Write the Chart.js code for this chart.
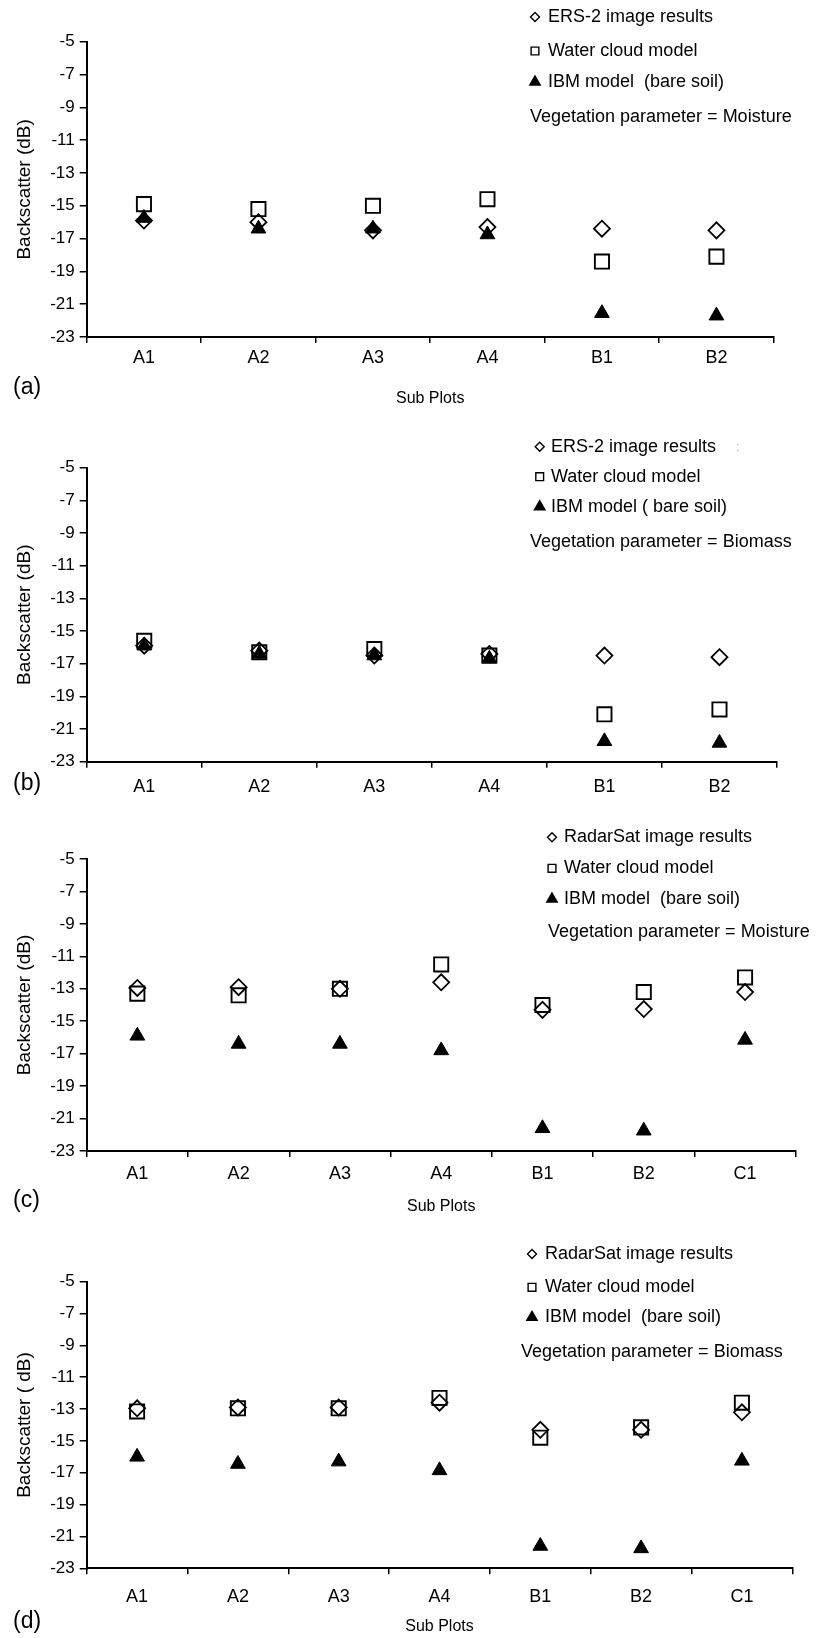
<!DOCTYPE html>
<html><head><meta charset="utf-8">
<script src="https://cdn.jsdelivr.net/npm/chart.js@4/dist/chart.umd.min.js"></script>
<style>
html,body{margin:0;padding:0;background:#fff;}
body{width:816px;height:1638px;position:relative;overflow:hidden;font-family:"Liberation Sans",Arial,sans-serif;}
canvas{position:absolute;left:0;}
.lbl{position:absolute;left:13px;font-size:23px;line-height:23px;color:#000;}
</style></head><body>
<canvas id="ca" width="816" height="410" style="top:0px"></canvas>
<canvas id="cb" width="816" height="405" style="top:410px"></canvas>
<canvas id="cc" width="816" height="420" style="top:815px"></canvas>
<canvas id="cd" width="816" height="403" style="top:1235px"></canvas>
<div class="lbl" style="top:375px">(a)</div>
<div class="lbl" style="top:771px">(b)</div>
<div class="lbl" style="top:1188px">(c)</div>
<div class="lbl" style="top:1609px">(d)</div>
<script>
// ---- data ----
const catsAB = ['A1','A2','A3','A4','B1','B2'];
const catsCD = ['A1','A2','A3','A4','B1','B2','C1'];
const yTicks = [-5,-7,-9,-11,-13,-15,-17,-19,-21,-23];

const a_ers = [-15.9, -16.0, -16.5, -16.3, -16.4, -16.5];
const a_wcm = [-14.9, -15.2, -15.0, -14.6, -18.4, -18.1];
const a_ibm = [-15.75, -16.4, -16.4, -16.75, -21.55, -21.7];

const b_ers = [-15.9, -16.2, -16.5, -16.4, -16.5, -16.6];
const b_wcm = [-15.6, -16.3, -16.1, -16.5, -20.1, -19.8];
const b_ibm = [-15.9, -16.4, -16.5, -16.7, -21.75, -21.85];

const c_rs  = [-12.95, -12.9, -13.0, -12.6, -14.3, -14.25, -13.2];
const c_wcm = [-13.3, -13.4, -13.0, -11.5, -14.0, -13.2, -12.3];
const c_ibm = [-15.9, -16.4, -16.4, -16.8, -21.6, -21.75, -16.15];

const d_rs  = [-12.95, -12.9, -12.9, -12.6, -14.3, -14.3, -13.2];
const d_wcm = [-13.15, -12.95, -12.95, -12.3, -14.8, -14.15, -12.6];
const d_ibm = [-16.0, -16.45, -16.3, -16.85, -21.6, -21.75, -16.25];

// ---- rendering ----
const FONT = '"Liberation Sans", Arial, sans-serif';
Chart.defaults.font.family = FONT;
Chart.defaults.color = '#000';

function drawMarker(ctx, style, x, y, r, filled) {
  ctx.beginPath();
  if (style === 'rectRot') {
    ctx.moveTo(x, y - r); ctx.lineTo(x + r, y); ctx.lineTo(x, y + r); ctx.lineTo(x - r, y); ctx.closePath();
  } else if (style === 'rect') {
    const s = r * Math.SQRT1_2; ctx.rect(x - s, y - s, 2 * s, 2 * s);
  } else {
    ctx.moveTo(x, y - r); ctx.lineTo(x + 0.866 * r, y + 0.5 * r); ctx.lineTo(x - 0.866 * r, y + 0.5 * r); ctx.closePath();
  }
  if (filled) { ctx.fillStyle = '#000'; ctx.fill(); }
  ctx.lineWidth = 1.4; ctx.strokeStyle = '#000'; ctx.stroke();
}

const sideLegend = {
  id: 'sideLegend',
  afterDraw(chart, args, o) {
    const ctx = chart.ctx;
    ctx.save();
    ctx.font = '18px ' + FONT;
    ctx.textBaseline = 'middle';
    chart.data.datasets.forEach((ds, i) => {
      const y = o.ys[i];
      drawMarker(ctx, ds.pointStyle, o.markerX, y, o.legendR[i], ds.pointStyle === 'triangle');
      ctx.fillStyle = '#000';
      ctx.fillText(ds.label, o.textX, y);
    });
    ctx.fillStyle = '#000';
    ctx.fillText(o.note, o.noteX, o.noteY);
    if (o.extra) { ctx.fillStyle = '#aaa'; ctx.font = '13px ' + FONT; ctx.fillText(o.extra.text, o.extra.x, o.extra.y); }
    ctx.restore();
  }
};

function makeChart(id, p) {
  const datasets = [
    {label: p.names[0], data: p.s1, pointStyle: 'rectRot', pointRadius: 8, pointBorderWidth: 1.8,
     pointBorderColor: '#000', pointBackgroundColor: 'rgba(0,0,0,0)', showLine: false},
    {label: p.names[1], data: p.s2, pointStyle: 'rect', pointRadius: 10, pointBorderWidth: 1.9,
     pointBorderColor: '#000', pointBackgroundColor: 'rgba(0,0,0,0)', showLine: false},
    {label: p.names[2], data: p.s3, pointStyle: 'triangle', pointRadius: 8.5, pointBorderWidth: 1,
     pointBorderColor: '#000', pointBackgroundColor: '#000', showLine: false}
  ];
  return new Chart(document.getElementById(id), {
    type: 'line',
    data: {labels: p.cats, datasets},
    plugins: [sideLegend],
    options: {
      responsive: false, animation: false, events: [],
      layout: {padding: {top: p.padTop, right: 816 - p.right, left: 0, bottom: 0}},
      plugins: {
        legend: {display: false}, tooltip: {enabled: false},
        sideLegend: p.legend
      },
      scales: {
        x: {
          type: 'category', offset: true,
          grid: {offset: true, drawOnChartArea: false, drawTicks: true, tickLength: 6, color: '#000', lineWidth: 1.5},
          border: {color: '#000', width: 2},
          ticks: {color: '#000', font: {size: 18}, padding: p.tickPad, maxRotation: 0, autoSkip: false},
          title: {display: !!p.xTitle, text: p.xTitle || '', color: '#000', font: {size: 16}, padding: {top: 0, bottom: p.titlePad}},
          afterFit: s => { s.height = p.xHeight; }
        },
        y: {
          min: -23, max: -5,
          afterBuildTicks: s => { s.ticks = yTicks.map(v => ({value: v})); },
          grid: {drawOnChartArea: false, drawTicks: true, tickLength: 7, color: '#000', lineWidth: 1.5},
          border: {color: '#000', width: 2},
          ticks: {color: '#000', font: {size: 17}, padding: 5},
          title: {display: true, text: p.yTitle, color: '#000', font: {size: 19}, padding: {top: 13, bottom: 0}},
          afterFit: s => { s.width = 86.7; }
        }
      }
    }
  });
}

const ersNames = ['ERS-2 image results', 'Water cloud model', 'IBM model  (bare soil)'];
const rsNames = ['RadarSat image results', 'Water cloud model', 'IBM model  (bare soil)'];

makeChart('ca', {
  cats: catsAB, s1: a_ers, s2: a_wcm, s3: a_ibm, names: ersNames,
  padTop: 41.7, right: 773.7, xHeight: 73, tickPad: 4.2, xTitle: 'Sub Plots', titlePad: 1.4,
  yTitle: 'Backscatter (dB)',
  legend: {markerX: 535, textX: 548, ys: [17, 51, 82], legendR: [4.5, 5.5, 6],
           note: 'Vegetation parameter = Moisture', noteX: 530, noteY: 117}
});
makeChart('cb', {
  cats: catsAB, s1: b_ers, s2: b_wcm, s3: b_ibm, names: ['ERS-2 image results', 'Water cloud model', 'IBM model ( bare soil)'],
  padTop: 57.7, right: 777, xHeight: 53.3, tickPad: 8.2, xTitle: '', titlePad: 0,
  yTitle: 'Backscatter (dB)',
  legend: {markerX: 539.7, textX: 551, ys: [36.7, 66.7, 96.7], legendR: [4.5, 5.5, 6],
           note: 'Vegetation parameter = Biomass', noteX: 530, noteY: 131.7,
           extra: {text: ':', x: 736, y: 37}}
});
makeChart('cc', {
  cats: catsCD, s1: c_rs, s2: c_wcm, s3: c_ibm, names: rsNames,
  padTop: 44, right: 795.7, xHeight: 84, tickPad: 6.2, xTitle: 'Sub Plots', titlePad: 18.7,
  yTitle: 'Backscatter (dB)',
  legend: {markerX: 552, textX: 564, ys: [22.3, 53.3, 84], legendR: [4.5, 5.5, 6],
           note: 'Vegetation parameter = Moisture', noteX: 548, noteY: 117.3}
});
makeChart('cd', {
  cats: catsCD, s1: d_rs, s2: d_wcm, s3: d_ibm, names: rsNames,
  padTop: 46.7, right: 792.3, xHeight: 69.7, tickPad: 11.6, xTitle: 'Sub Plots', titlePad: 1.7,
  yTitle: 'Backscatter ( dB)',
  legend: {markerX: 532, textX: 545, ys: [19, 52.3, 82.3], legendR: [4.5, 5.5, 6],
           note: 'Vegetation parameter = Biomass', noteX: 521, noteY: 116.7}
});
</script>
</body></html>
